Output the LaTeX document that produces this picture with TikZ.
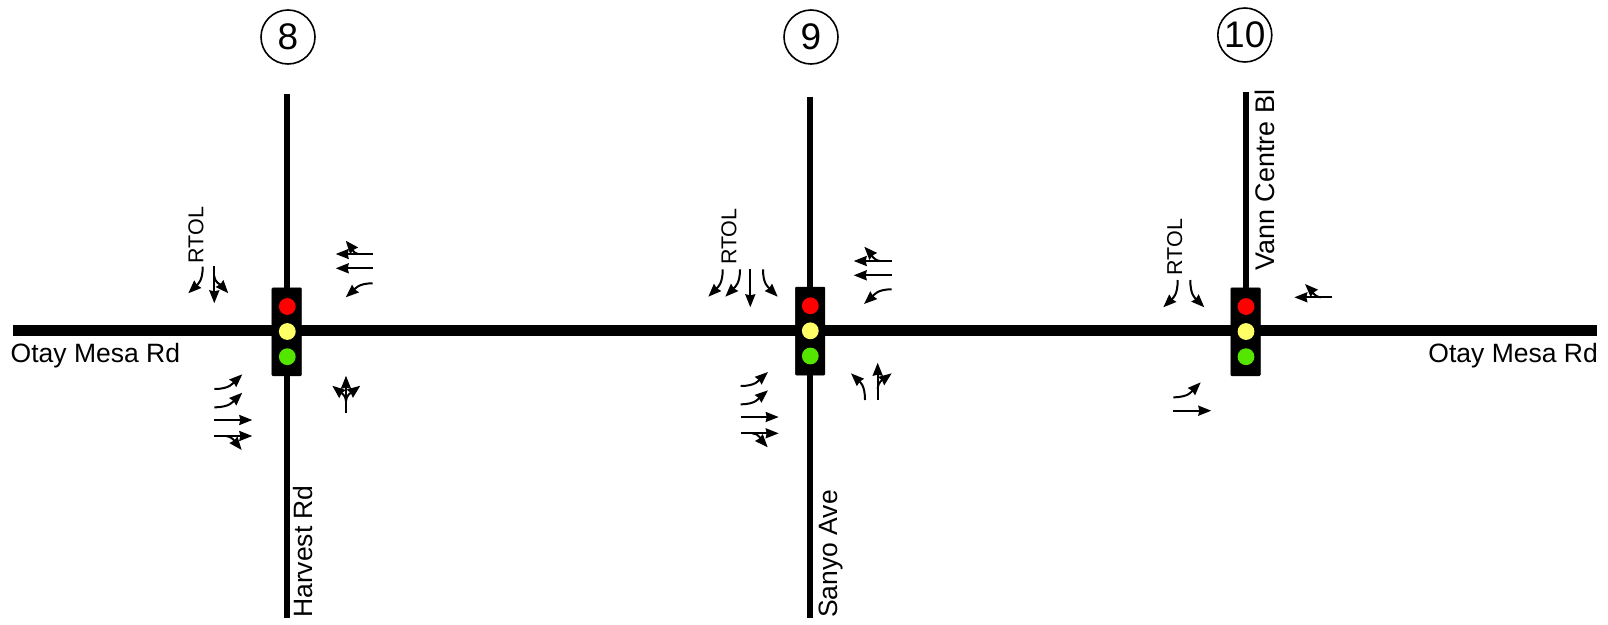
\documentclass[tikz,border=0pt]{standalone}
\usepackage{fontspec}
\setmainfont{Liberation Sans}
\usetikzlibrary{arrows.meta}
\tikzset{
 x=1pt,y=-1pt,
 road/.style={line width=11pt,draw=black},
 street/.style={line width=5.8pt,draw=black},
 lane/.style={line width=2pt,draw=black,-{Stealth[length=13pt,width=10pt,inset=1pt]}},
 housing/.style={fill=black,draw=black,line width=.5pt,rounded corners=1pt,minimum width=29.5pt,minimum height=88pt,inner sep=0pt},
 lamp/.style={circle,minimum size=16.8pt,inner sep=0pt},
 badge/.style={circle,draw=black,line width=1.6pt,minimum size=54pt,inner sep=0pt,font=\fontsize{37}{37}\selectfont},
 roadname/.style={font=\fontsize{26.5}{28}\selectfont,inner sep=0pt},
 rtol/.style={font=\fontsize{21.5}{22}\selectfont,inner sep=0pt,rotate=90},
}
\definecolor{lampyellow}{HTML}{FFFF66}
\definecolor{lampgreen}{HTML}{55E600}
\begin{document}
\begin{tikzpicture}
\useasboundingbox (0,0) rectangle (1608,624);
% streets
\coordinate (wend) at (13,330.7); \coordinate (eend) at (1597,330.7);
\coordinate (n8) at (286.7,94); \coordinate (s8) at (286.7,618);
\coordinate (n9) at (810.3,96.5); \coordinate (s9) at (810.3,618);
\coordinate (n10) at (1246,92); \coordinate (s10) at (1246,300);
\draw[road] (wend) -- (eend);
\draw[street] (n8) -- (s8);
\draw[street] (n9) -- (s9);
\draw[street] (n10) -- (s10);
% signals
\node[housing] (sig8) at (286.7,331.8) {};
\node[housing] (sig9) at (810.2,331) {};
\node[housing] (sig10) at (1245.5,331.8) {};
\foreach \n/\x/\yo in {sig8/287.3/0,sig9/810.3/-0.7,sig10/1246/0}{
 \node[lamp,fill=red] (\n r) at (\x,306.5+\yo) {};
 \node[lamp,fill=lampyellow] (\n y) at (\x,331.5+\yo) {};
 \node[lamp,fill=lampgreen] (\n g) at (\x,356.7+\yo) {};
}
% badges
\node[badge] (b8) at (288,37) {8};
\node[badge] (b9) at (811,37) {9};
\node[badge] (b10) at (1244.8,35) {10};
% names
\node[roadname,anchor=base west] (w) at (10.5,362) {Otay Mesa Rd};
\node[roadname,anchor=base east] (e) at (1598,362) {Otay Mesa Rd};
\node[roadname,anchor=base west,rotate=90] (hv) at (312.5,618) {Harvest Rd};
\node[roadname,anchor=base west,rotate=90] (sy) at (837,618) {Sanyo Ave};
\node[roadname,anchor=base west,rotate=90,font=\fontsize{26.9}{28}\selectfont] (vc) at (1274,270.5) {Vann Centre Bl};
\node[rtol] (r8) at (196,235) {RTOL};
\node[rtol] (r9) at (729,236.7) {RTOL};
\node[rtol] (r10) at (1174.7,247) {RTOL};
% intersection 8
\draw[lane] (202.7,266.7) .. controls (202.7,281) and (198,284) .. (188.3,293.3);
\draw[lane] (214.3,266) -- (214.3,303.3);
\draw[lane] (214.3,276) .. controls (215,283) and (220,284) .. (228.3,293.3);
\draw[lane] (372.7,254) -- (335.7,254);
\draw[lane] (358,254) .. controls (353,253.5) and (351,247) .. (345.7,240.7);
\draw[lane] (372.7,268.3) -- (335.7,268.3);
\draw[lane] (372.7,283.3) .. controls (358,283.3) and (355,289) .. (345.7,297.3);
\draw[lane] (214.3,389) .. controls (230,389) and (233,383) .. (242.3,374.3);
\draw[lane] (214.3,407.3) .. controls (230,407.3) and (233,401.5) .. (242.3,392.7);
\draw[lane] (214.3,420) -- (252.3,420);
\draw[lane] (214.3,436) -- (252.3,436);
\draw[lane] (226,436) .. controls (232,436) and (236,443) .. (241.7,450);
\draw[lane] (346,413.3) -- (346,375.7);
\draw[lane] (346,401) .. controls (346,395) and (340,392) .. (332.3,385.7);
\draw[lane] (346,401) .. controls (346,395) and (352,392) .. (360.3,385.7);
% intersection 9
\draw[lane] (722.7,269.3) .. controls (722.7,284) and (718,287) .. (708.3,296.7);
\draw[lane] (740,269.3) .. controls (740,284) and (735,287) .. (725.3,296.7);
\draw[lane] (750.3,269.3) -- (750.3,307.3);
\draw[lane] (763,269.3) .. controls (763,284) and (768,287) .. (777.7,296.7);
\draw[lane] (892,261) -- (853.7,261);
\draw[lane] (880,261) .. controls (873,260) and (871,254) .. (864.3,246.7);
\draw[lane] (892,275.3) -- (853.7,275.3);
\draw[lane] (891.7,289.3) .. controls (877,289.3) and (874,295) .. (864,304);
\draw[lane] (740.7,386) .. controls (756,386) and (759,380) .. (768,372);
\draw[lane] (740.7,404.3) .. controls (756,404.3) and (759,398) .. (768,390.3);
\draw[lane] (740.7,417) -- (778.7,417);
\draw[lane] (740.7,433.3) -- (778.7,433.3);
\draw[lane] (752.5,433.3) .. controls (759,433.3) and (762,441) .. (767.7,447.3);
\draw[lane] (865,400) .. controls (865,385) and (860,382) .. (851,373.3);
\draw[lane] (877.7,400) -- (877.7,362.7);
\draw[lane] (877.7,389) .. controls (878,381) and (884,379) .. (891.7,373.3);
% intersection 10
\draw[lane] (1177.7,280) .. controls (1177.7,295) and (1173,298) .. (1163.3,307.3);
\draw[lane] (1190.3,280) .. controls (1190.3,295) and (1195,298) .. (1204.3,307.3);
\draw[lane] (1332.3,297.3) -- (1294.3,297.3);
\draw[lane] (1321,297.3) .. controls (1314,297) and (1311,290) .. (1305,284);
\draw[lane] (1173.3,397.3) .. controls (1189,397.3) and (1192,391) .. (1200.7,382.3);
\draw[lane] (1173.3,410.7) -- (1211.3,410.7);
\end{tikzpicture}
\end{document}
